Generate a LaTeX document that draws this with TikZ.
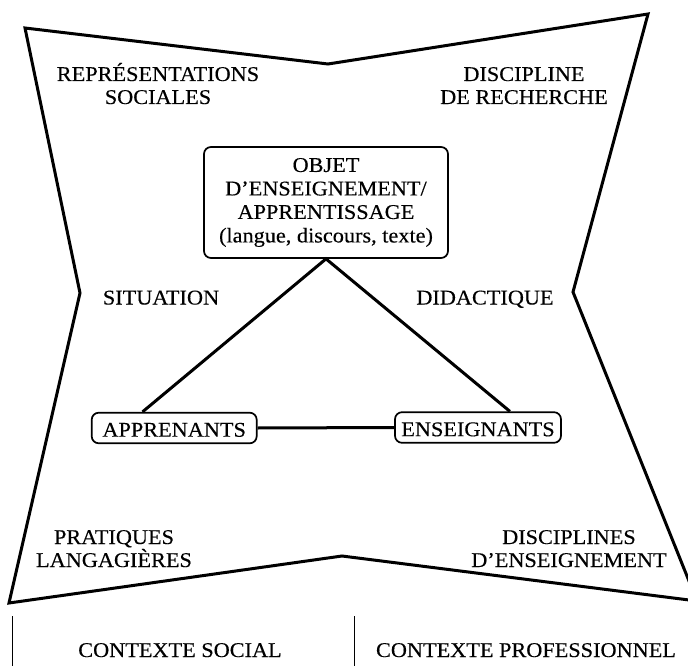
\documentclass[tikz,border=0pt]{standalone}
\usepackage{fontspec}
\setmainfont{Liberation Serif}[FakeStretch=1.06, FakeBold=0.3]
\usetikzlibrary{calc}
\begin{document}
\begin{tikzpicture}[x=1pt,y=-1pt,
  lbl/.style={font=\fontsize{21}{22.7}\selectfont, inner sep=0pt, anchor=base},
  outline/.style={draw=black, line width=3pt, line join=miter},
  tri/.style={line width=3pt},
  rbox/.style={draw=black, line width=1.7pt, rounded corners=7pt, inner sep=0pt,
    align=center, font=\fontsize{21}{23.5}\selectfont},
  sbox/.style={rbox, text height=17.4pt, text depth=0pt, minimum height=30.6pt}]
\tikzset{sepline/.style={line width=1pt}}
\useasboundingbox (0,0) rectangle (688,666);

% outer star-like outline
\draw[outline] (25,28) -- (328,64) -- (648,14) -- (573,292) -- (697,601)
  -- (342,556) -- (9,603) -- (80,293) -- cycle;

% corner labels
\node[lbl] (rs1) at (158,81) {REPRÉSENTATIONS};
\node[lbl] (rs2) at (158,104) {SOCIALES};
\node[lbl] (dr1) at (524,81) {DISCIPLINE};
\node[lbl] (dr2) at (524,104) {DE RECHERCHE};
\node[lbl] (sit) at (161,304.5) {SITUATION};
\node[lbl] (did) at (485,304.5) {DIDACTIQUE};
\node[lbl] (pl1) at (114,544) {PRATIQUES};
\node[lbl] (pl2) at (114,567) {LANGAGIÈRES};
\node[lbl] (de1) at (569,544) {DISCIPLINES};
\node[lbl] (de2) at (569,567) {D’ENSEIGNEMENT};

% boxes
\node[rbox, minimum width=244pt, minimum height=111pt] (obj) at (326,202.5)
  {OBJET\\D’ENSEIGNEMENT/\\APPRENTISSAGE\\(langue, discours, texte)};
\node[sbox, minimum width=165pt] (app) at (174.2,428) {APPRENANTS};
\node[sbox, minimum width=166pt] (ens) at (478,427.5) {ENSEIGNANTS};

% triangle
\draw[tri] ($(app.north west)!0.31!(app.north east)$) -- (obj.south)
  -- ($(ens.north west)!0.69!(ens.north east)$);
\draw[tri] (app.east) -- (ens.west);

% bottom contexts
\coordinate (s1) at (12,616);
\coordinate (s1b) at (12,666);
\coordinate (s2) at (354,616);
\coordinate (s2b) at (354,666);
\draw[sepline] (s1) -- (s1b);
\draw[sepline] (s2) -- (s2b);
\node[lbl] (cs) at (180,657) {CONTEXTE SOCIAL};
\node[lbl] (cp) at (526,657) {CONTEXTE PROFESSIONNEL};
\end{tikzpicture}
\end{document}
